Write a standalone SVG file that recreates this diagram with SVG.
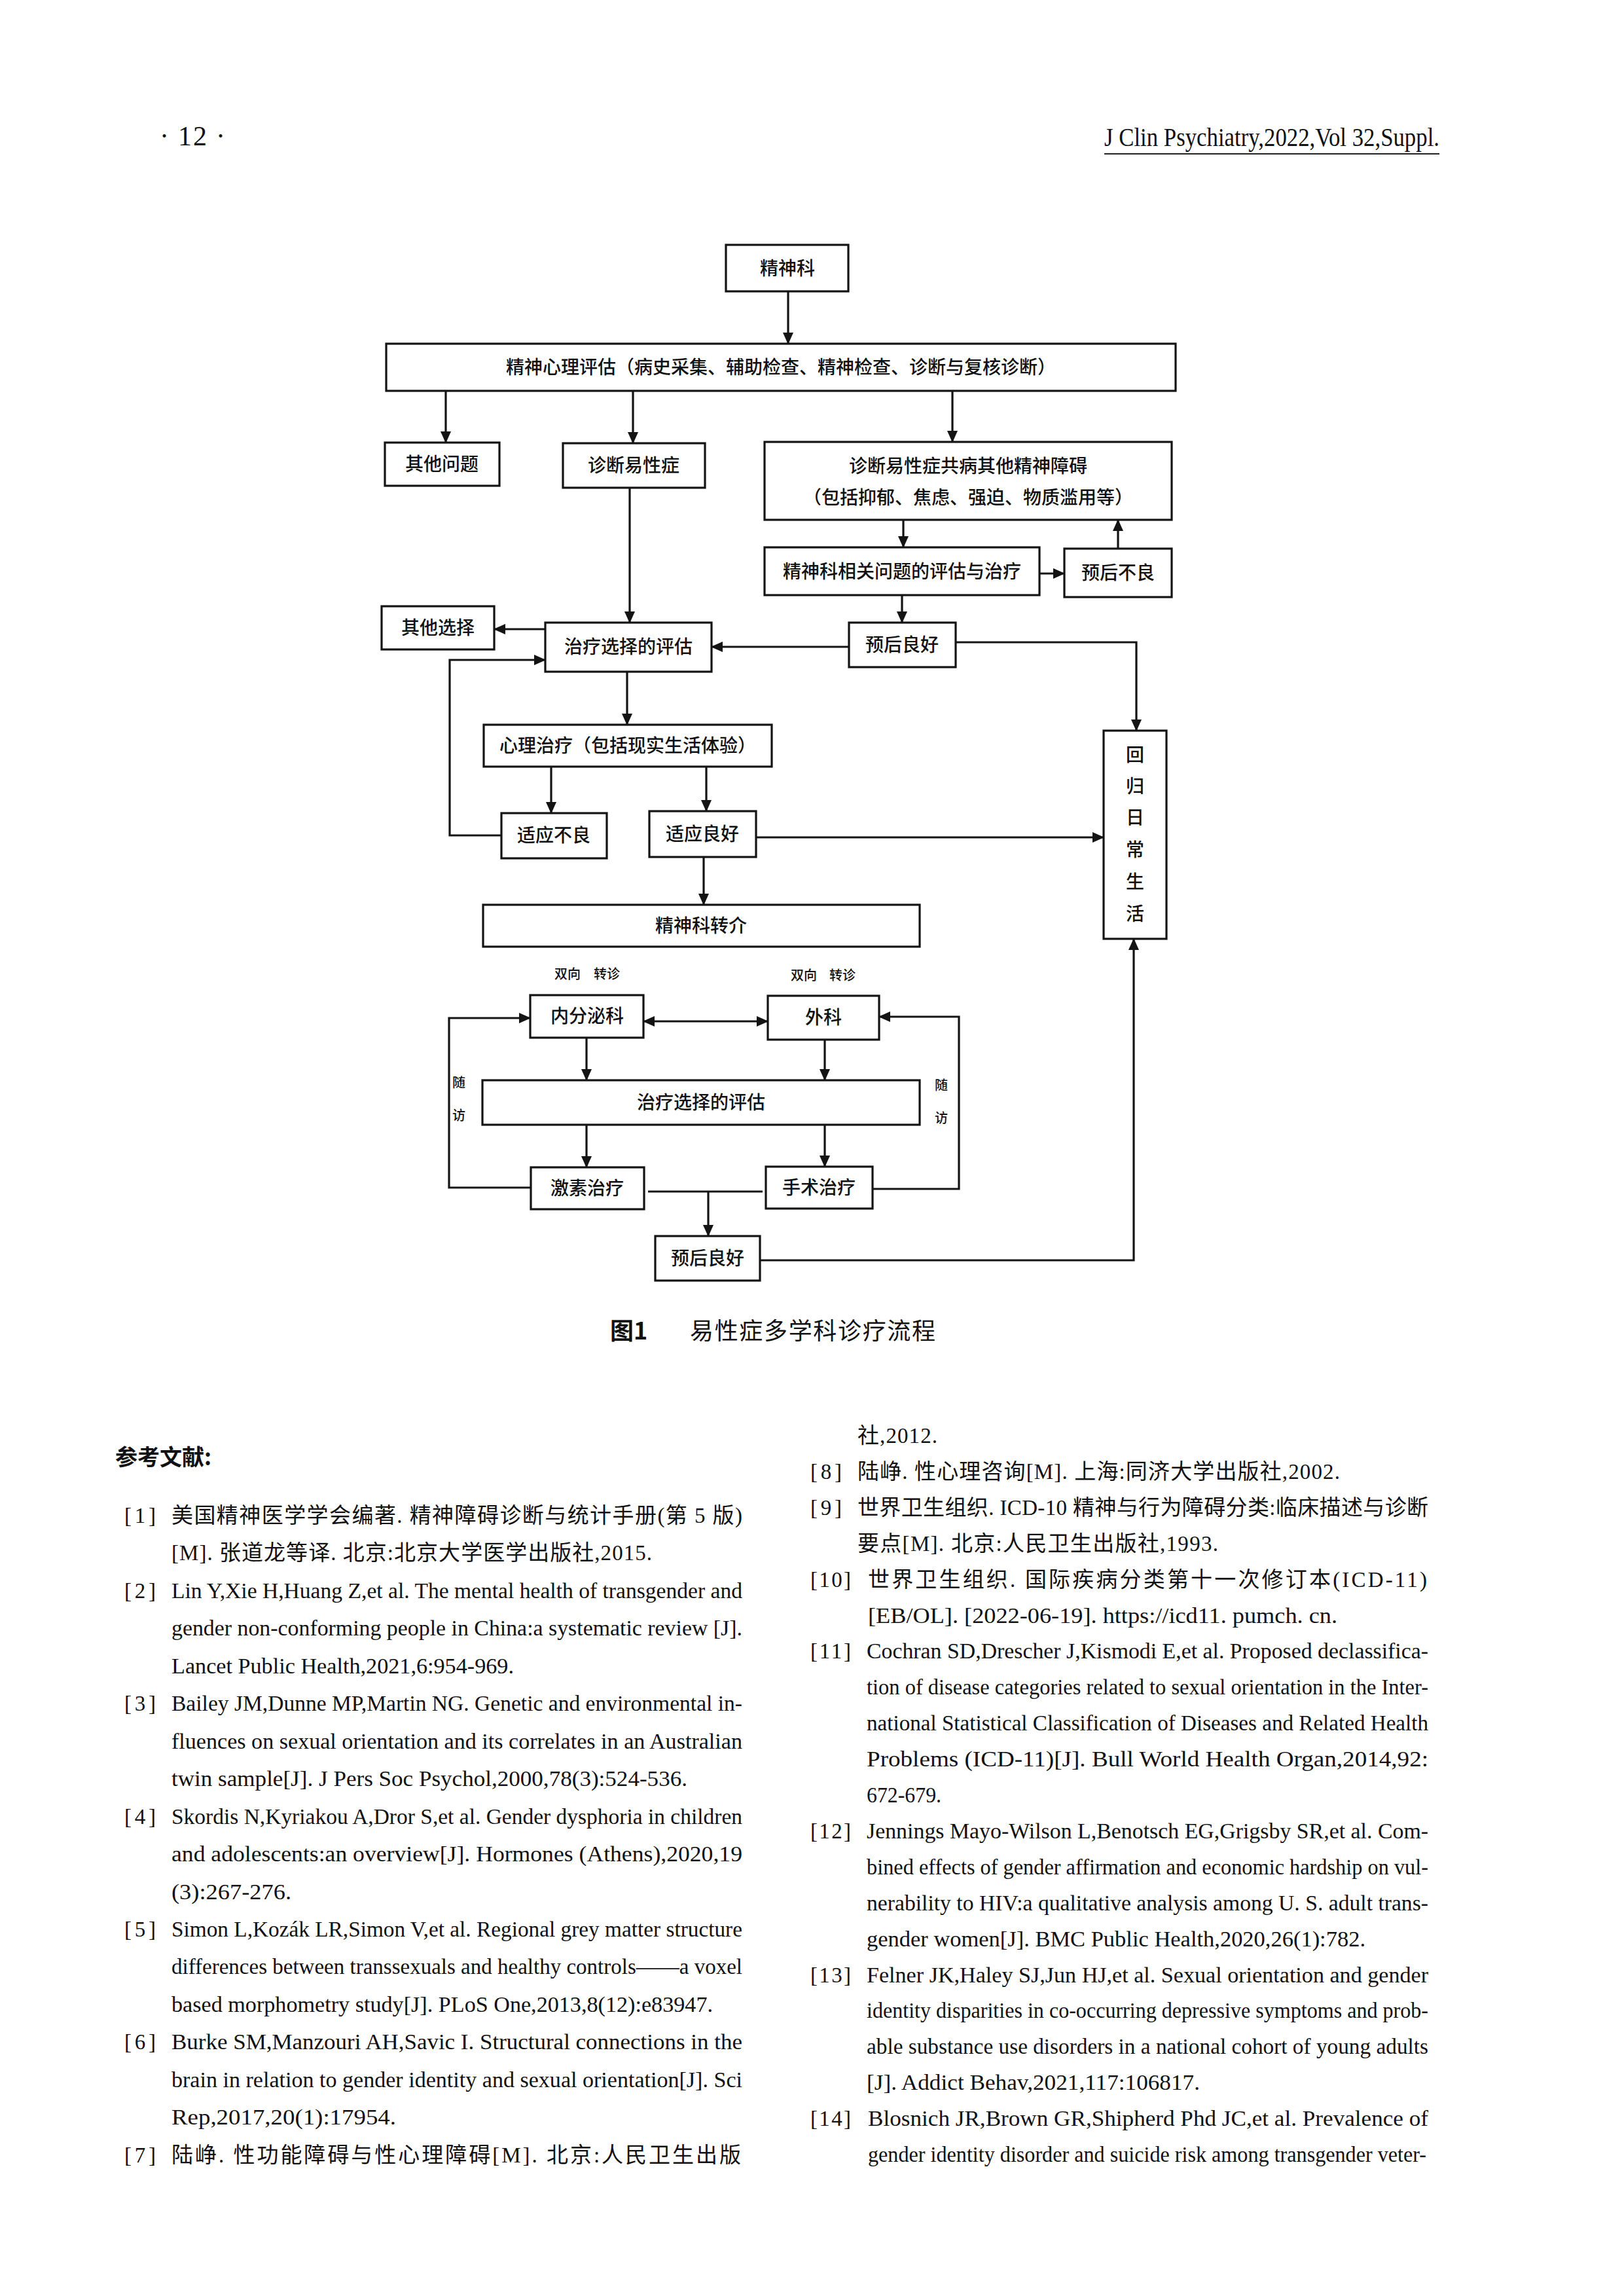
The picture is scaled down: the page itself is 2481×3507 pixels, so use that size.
<svg xmlns="http://www.w3.org/2000/svg" width="2481" height="3507" viewBox="0 0 2481 3507">
<style>
.box{fill:#fff;stroke:#141414;stroke-width:3.2}
.fc{font-family:"Noto Sans CJK SC","Noto Sans",sans-serif;font-size:28px;font-weight:500;text-anchor:middle;fill:#111}
.sm{font-size:20px}
.cn{stroke:#141414;stroke-width:3.2;fill:none}
.ar{marker-end:url(#ah)}
.ref{font-family:"Liberation Serif","Noto Sans CJK SC",serif;font-size:33px;fill:#111}
.hd{font-family:"Liberation Serif",serif;fill:#111}
</style>
<defs>
<marker id="ah" markerUnits="userSpaceOnUse" markerWidth="18" markerHeight="16" refX="17" refY="8" orient="auto-start-reverse">
<path d="M0,0 L18,8 L0,16 z" fill="#141414"/>
</marker>
</defs>
<rect width="2481" height="3507" fill="#fff"/>

<g id="header">
<text class="hd" x="244" y="222" font-size="42" textLength="100" lengthAdjust="spacing">· 12 ·</text>
<text class="hd" x="1687" y="223" font-size="40" textLength="512" lengthAdjust="spacingAndGlyphs">J Clin Psychiatry,2022,Vol 32,Suppl.</text>
<line x1="1687" y1="235" x2="2199" y2="235" stroke="#222" stroke-width="2"/>
</g>

<g id="connectors">
<path class="cn ar" d="M1204,445 V525"/>
<path class="cn ar" d="M681,597 V676"/>
<path class="cn ar" d="M967,597 V677"/>
<path class="cn ar" d="M1455,597 V675"/>
<path class="cn ar" d="M1380,794 V836"/>
<path class="cn ar" d="M1588,876 H1626"/>
<path class="cn ar" d="M1708,838 V794"/>
<path class="cn ar" d="M962,745 V951"/>
<path class="cn ar" d="M1378,909 V951"/>
<path class="cn ar" d="M833,961 H755"/>
<path class="cn ar" d="M1297,988 H1087"/>
<path class="cn ar" d="M1460,981 H1736 V1116"/>
<path class="cn ar" d="M958,1026 V1107"/>
<path class="cn ar" d="M842,1171 V1242"/>
<path class="cn ar" d="M1079,1171 V1239"/>
<path class="cn ar" d="M766,1276 H687 V1008 H833"/>
<path class="cn ar" d="M1155,1279 H1686"/>
<path class="cn ar" d="M1075,1309 V1382"/>
<path class="cn ar" d="M983,1560 H1173" marker-start="url(#ah)"/>
<path class="cn ar" d="M896,1585 V1650"/>
<path class="cn ar" d="M1260,1588 V1650"/>
<path class="cn ar" d="M896,1718 V1783"/>
<path class="cn ar" d="M1260,1718 V1782"/>
<path class="cn ar" d="M811,1814 H686 V1555 H810"/>
<path class="cn ar" d="M1333,1816 H1465 V1553 H1343"/>
<path class="cn" d="M990,1820 H1165"/>
<path class="cn ar" d="M1082,1820 V1888"/>
<path class="cn ar" d="M1161,1925 H1732 V1434"/>
</g>

<g id="n-psych"><rect class="box" x="1109" y="374" width="187" height="71"/><text class="fc" x="1203" y="420">精神科</text></g>
<g id="n-assess"><rect class="box" x="590" y="525" width="1206" height="72"/><text class="fc" x="1193" y="571">精神心理评估（病史采集、辅助检查、精神检查、诊断与复核诊断）</text></g>
<g id="n-other-q"><rect class="box" x="588" y="676" width="175" height="66"/><text class="fc" x="675" y="719">其他问题</text></g>
<g id="n-diag"><rect class="box" x="860" y="677" width="217" height="68"/><text class="fc" x="968" y="721">诊断易性症</text></g>
<g id="n-comorb"><rect class="box" x="1168" y="675" width="622" height="119"/><text class="fc" x="1479" y="722">诊断易性症共病其他精神障碍</text><text class="fc" x="1479" y="770">（包括抑郁、焦虑、强迫、物质滥用等）</text></g>
<g id="n-psych-treat"><rect class="box" x="1168" y="836" width="420" height="73"/><text class="fc" x="1378" y="883" font-size="30">精神科相关问题的评估与治疗</text></g>
<g id="n-poor1"><rect class="box" x="1626" y="838" width="164" height="74"/><text class="fc" x="1708" y="885">预后不良</text></g>
<g id="n-other-c"><rect class="box" x="583" y="926" width="172" height="66"/><text class="fc" x="669" y="969">其他选择</text></g>
<g id="n-eval1"><rect class="box" x="833" y="951" width="254" height="75"/><text class="fc" x="960" y="998">治疗选择的评估</text></g>
<g id="n-good1"><rect class="box" x="1297" y="951" width="163" height="68"/><text class="fc" x="1378" y="995">预后良好</text></g>
<g id="n-therapy"><rect class="box" x="739" y="1107" width="440" height="64"/><text class="fc" x="959" y="1149">心理治疗（包括现实生活体验）</text></g>
<g id="n-maladapt"><rect class="box" x="766" y="1242" width="161" height="69"/><text class="fc" x="846" y="1286">适应不良</text></g>
<g id="n-adapt"><rect class="box" x="992" y="1239" width="163" height="70"/><text class="fc" x="1073" y="1284">适应良好</text></g>
<g id="n-referral"><rect class="box" x="738" y="1382" width="667" height="64"/><text class="fc" x="1071" y="1424">精神科转介</text></g>
<g id="n-return"><rect class="box" x="1686" y="1116" width="96" height="318"/>
<text class="fc" x="1734" y="1163">回</text><text class="fc" x="1734" y="1211">归</text><text class="fc" x="1734" y="1259">日</text><text class="fc" x="1734" y="1308">常</text><text class="fc" x="1734" y="1357">生</text><text class="fc" x="1734" y="1406">活</text></g>
<g id="lbl-referral-l"><text class="fc sm" x="896" y="1495"><tspan x="867">双向</tspan><tspan x="927">转诊</tspan></text></g>
<g id="lbl-referral-r"><text class="fc sm" x="1257" y="1497"><tspan x="1228">双向</tspan><tspan x="1287">转诊</tspan></text></g>
<g id="n-endo"><rect class="box" x="810" y="1520" width="173" height="65"/><text class="fc" x="897" y="1562">内分泌科</text></g>
<g id="n-surg"><rect class="box" x="1173" y="1521" width="170" height="67"/><text class="fc" x="1258" y="1564">外科</text></g>
<g id="lbl-follow-l"><text class="fc sm" x="701" y="1661">随</text><text class="fc sm" x="701" y="1711">访</text></g>
<g id="lbl-follow-r"><text class="fc sm" x="1438" y="1665">随</text><text class="fc sm" x="1438" y="1715">访</text></g>
<g id="n-eval2"><rect class="box" x="737" y="1650" width="668" height="68"/><text class="fc" x="1071" y="1694">治疗选择的评估</text></g>
<g id="n-hormone"><rect class="box" x="811" y="1783" width="173" height="64"/><text class="fc" x="897" y="1825">激素治疗</text></g>
<g id="n-surgery"><rect class="box" x="1170" y="1782" width="163" height="64"/><text class="fc" x="1251" y="1824">手术治疗</text></g>
<g id="n-good2"><rect class="box" x="1001" y="1888" width="160" height="68"/><text class="fc" x="1081" y="1932">预后良好</text></g>

<g id="caption">
<text x="932" y="2046" font-family="'Noto Sans CJK SC',sans-serif" font-size="36" font-weight="bold" fill="#111">图1</text>
<text x="1054" y="2046" font-family="'Noto Sans CJK SC',sans-serif" font-size="36" fill="#111" textLength="375" lengthAdjust="spacing">易性症多学科诊疗流程</text>
</g>

<g id="references">
<text x="176" y="2238" font-family="'Noto Sans CJK SC',sans-serif" font-size="34" font-weight="bold" fill="#111">参考文献:</text>
<g class="ref">
<text x="190" y="2326" textLength="48" lengthAdjust="spacing">[1]</text>
<text x="262" y="2326" textLength="872" lengthAdjust="spacing">美国精神医学学会编著. 精神障碍诊断与统计手册(第 5 版)</text>
<text x="262" y="2383" textLength="734" lengthAdjust="spacing">[M]. 张道龙等译. 北京:北京大学医学出版社,2015.</text>
<text x="190" y="2441" textLength="48" lengthAdjust="spacing">[2]</text>
<text x="262" y="2441" textLength="872" lengthAdjust="spacingAndGlyphs">Lin Y,Xie H,Huang Z,et al. The mental health of transgender and</text>
<text x="262" y="2498" textLength="872" lengthAdjust="spacingAndGlyphs">gender non-conforming people in China:a systematic review [J].</text>
<text x="262" y="2556" textLength="523" lengthAdjust="spacingAndGlyphs">Lancet Public Health,2021,6:954-969.</text>
<text x="190" y="2613" textLength="48" lengthAdjust="spacing">[3]</text>
<text x="262" y="2613" textLength="872" lengthAdjust="spacingAndGlyphs">Bailey JM,Dunne MP,Martin NG. Genetic and environmental in-</text>
<text x="262" y="2671" textLength="872" lengthAdjust="spacingAndGlyphs">fluences on sexual orientation and its correlates in an Australian</text>
<text x="262" y="2728" textLength="788" lengthAdjust="spacingAndGlyphs">twin sample[J]. J Pers Soc Psychol,2000,78(3):524-536.</text>
<text x="190" y="2786" textLength="48" lengthAdjust="spacing">[4]</text>
<text x="262" y="2786" textLength="872" lengthAdjust="spacingAndGlyphs">Skordis N,Kyriakou A,Dror S,et al. Gender dysphoria in children</text>
<text x="262" y="2843" textLength="872" lengthAdjust="spacingAndGlyphs">and adolescents:an overview[J]. Hormones (Athens),2020,19</text>
<text x="262" y="2901" textLength="183" lengthAdjust="spacingAndGlyphs">(3):267-276.</text>
<text x="190" y="2958" textLength="48" lengthAdjust="spacing">[5]</text>
<text x="262" y="2958" textLength="872" lengthAdjust="spacingAndGlyphs">Simon L,Kozák LR,Simon V,et al. Regional grey matter structure</text>
<text x="262" y="3015" textLength="872" lengthAdjust="spacingAndGlyphs">differences between transsexuals and healthy controls——a voxel</text>
<text x="262" y="3073" textLength="827" lengthAdjust="spacingAndGlyphs">based morphometry study[J]. PLoS One,2013,8(12):e83947.</text>
<text x="190" y="3130" textLength="48" lengthAdjust="spacing">[6]</text>
<text x="262" y="3130" textLength="872" lengthAdjust="spacingAndGlyphs">Burke SM,Manzouri AH,Savic I. Structural connections in the</text>
<text x="262" y="3188" textLength="872" lengthAdjust="spacingAndGlyphs">brain in relation to gender identity and sexual orientation[J]. Sci</text>
<text x="262" y="3245" textLength="343" lengthAdjust="spacingAndGlyphs">Rep,2017,20(1):17954.</text>
<text x="190" y="3303" textLength="48" lengthAdjust="spacing">[7]</text>
<text x="262" y="3303" textLength="870" lengthAdjust="spacing">陆峥. 性功能障碍与性心理障碍[M]. 北京:人民卫生出版</text>

<text x="1310" y="2204" textLength="122" lengthAdjust="spacing">社,2012.</text>
<text x="1238" y="2259" textLength="48" lengthAdjust="spacing">[8]</text>
<text x="1310" y="2259" textLength="737" lengthAdjust="spacing">陆峥. 性心理咨询[M]. 上海:同济大学出版社,2002.</text>
<text x="1238" y="2314" textLength="48" lengthAdjust="spacing">[9]</text>
<text x="1310" y="2314" textLength="872" lengthAdjust="spacing">世界卫生组织. ICD-10 精神与行为障碍分类:临床描述与诊断</text>
<text x="1310" y="2369" textLength="551" lengthAdjust="spacing">要点[M]. 北京:人民卫生出版社,1993.</text>
<text x="1238" y="2424" textLength="62" lengthAdjust="spacing">[10]</text>
<text x="1326" y="2424" textLength="854" lengthAdjust="spacing">世界卫生组织. 国际疾病分类第十一次修订本(ICD-11)</text>
<text x="1326" y="2479" textLength="717" lengthAdjust="spacingAndGlyphs">[EB/OL]. [2022-06-19]. https://icd11. pumch. cn.</text>
<text x="1238" y="2533" textLength="62" lengthAdjust="spacing">[11]</text>
<text x="1324" y="2533" textLength="858" lengthAdjust="spacingAndGlyphs">Cochran SD,Drescher J,Kismodi E,et al. Proposed declassifica-</text>
<text x="1324" y="2588" textLength="858" lengthAdjust="spacingAndGlyphs">tion of disease categories related to sexual orientation in the Inter-</text>
<text x="1324" y="2643" textLength="858" lengthAdjust="spacingAndGlyphs">national Statistical Classification of Diseases and Related Health</text>
<text x="1324" y="2698" textLength="858" lengthAdjust="spacingAndGlyphs">Problems (ICD-11)[J]. Bull World Health Organ,2014,92:</text>
<text x="1324" y="2753" textLength="114" lengthAdjust="spacingAndGlyphs">672-679.</text>
<text x="1238" y="2808" textLength="62" lengthAdjust="spacing">[12]</text>
<text x="1324" y="2808" textLength="858" lengthAdjust="spacingAndGlyphs">Jennings Mayo-Wilson L,Benotsch EG,Grigsby SR,et al. Com-</text>
<text x="1324" y="2863" textLength="858" lengthAdjust="spacingAndGlyphs">bined effects of gender affirmation and economic hardship on vul-</text>
<text x="1324" y="2918" textLength="858" lengthAdjust="spacingAndGlyphs">nerability to HIV:a qualitative analysis among U. S. adult trans-</text>
<text x="1324" y="2973" textLength="762" lengthAdjust="spacingAndGlyphs">gender women[J]. BMC Public Health,2020,26(1):782.</text>
<text x="1238" y="3028" textLength="62" lengthAdjust="spacing">[13]</text>
<text x="1324" y="3028" textLength="858" lengthAdjust="spacingAndGlyphs">Felner JK,Haley SJ,Jun HJ,et al. Sexual orientation and gender</text>
<text x="1324" y="3082" textLength="858" lengthAdjust="spacingAndGlyphs">identity disparities in co-occurring depressive symptoms and prob-</text>
<text x="1324" y="3137" textLength="858" lengthAdjust="spacingAndGlyphs">able substance use disorders in a national cohort of young adults</text>
<text x="1324" y="3192" textLength="509" lengthAdjust="spacingAndGlyphs">[J]. Addict Behav,2021,117:106817.</text>
<text x="1238" y="3247" textLength="62" lengthAdjust="spacing">[14]</text>
<text x="1326" y="3247" textLength="856" lengthAdjust="spacingAndGlyphs">Blosnich JR,Brown GR,Shipherd Phd JC,et al. Prevalence of</text>
<text x="1326" y="3302" textLength="853" lengthAdjust="spacingAndGlyphs">gender identity disorder and suicide risk among transgender veter-</text>
</g>
</g>
</svg>
